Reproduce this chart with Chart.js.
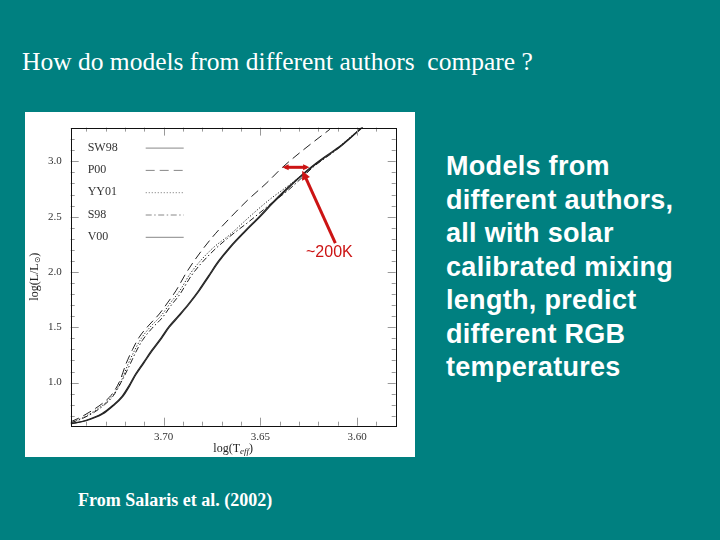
<!DOCTYPE html>
<html>
<head>
<meta charset="utf-8">
<script src="https://cdn.jsdelivr.net/npm/chart.js@4"></script>
<style>
  body { margin: 0; width: 720px; height: 540px; background: #008080; overflow: hidden; position: relative; }
  .title { position: absolute; left: 22px; top: 48px; font: 25.5px "Liberation Serif", serif; color: #fff; line-height: 28px; white-space: pre; }
  .side { position: absolute; left: 446px; top: 150px; font: bold 27px "Liberation Sans", Arial, sans-serif; letter-spacing: 0.3px; color: #fff; line-height: 33.5px; }
  .source { position: absolute; left: 78px; top: 489px; font: bold 18px "Liberation Serif", serif; color: #fff; line-height: 22px; }
  .panel { position: absolute; left: 25px; top: 112px; width: 390px; height: 345px; background: #fff; }
</style>
</head>
<body>
<div class="title">How do models from different authors  compare ?</div>
<div class="side">Models from<br>different authors,<br>all with solar<br>calibrated mixing<br>length, predict<br>different RGB<br>temperatures</div>
<div class="source">From Salaris et al. (2002)</div>
<div class="panel"><canvas id="hrChart" width="390" height="345"></canvas></div>

<script>
// isochrone tracks: [log Teff, log L/Lsun]
const sw98 = [[3.748,0.625],[3.740,0.655],[3.7315,0.715],[3.726,0.79],[3.7212,0.87],[3.7175,0.97],[3.7143,1.07],[3.710,1.18],[3.7057,1.29],[3.701,1.40],[3.697,1.50],[3.692,1.60],[3.6867,1.71],[3.6815,1.83],[3.6765,1.96],[3.6715,2.09],[3.6655,2.22],[3.658,2.36],[3.650,2.50],[3.6436,2.62],[3.636,2.75],[3.6298,2.85],[3.6238,2.94],[3.617,3.03],[3.608,3.14],[3.597,3.31]];
const p00 = [[3.748,0.645],[3.7425,0.69],[3.7367,0.75],[3.731,0.82],[3.7264,0.90],[3.7225,1.02],[3.7194,1.17],[3.716,1.30],[3.7126,1.41],[3.7075,1.52],[3.7022,1.62],[3.698,1.72],[3.6936,1.83],[3.688,2.00],[3.680,2.20],[3.673,2.35],[3.665,2.50],[3.6565,2.65],[3.647,2.80],[3.6385,2.946],[3.628,3.10],[3.614,3.29]];
const yy01 = [[3.748,0.64],[3.742,0.68],[3.736,0.74],[3.7305,0.81],[3.726,0.89],[3.722,1.01],[3.7185,1.16],[3.715,1.29],[3.7115,1.40],[3.7065,1.51],[3.701,1.61],[3.6965,1.72],[3.692,1.82],[3.686,1.99],[3.6755,2.20],[3.6655,2.34],[3.6555,2.50],[3.6455,2.65],[3.6355,2.78],[3.6275,2.89],[3.6215,2.97],[3.6115,3.10],[3.5975,3.31]];
const s98 = [[3.748,0.635],[3.742,0.675],[3.736,0.73],[3.7305,0.80],[3.726,0.88],[3.722,1.00],[3.718,1.14],[3.7145,1.27],[3.711,1.38],[3.706,1.49],[3.7005,1.59],[3.696,1.70],[3.6915,1.80],[3.6855,1.97],[3.6755,2.17],[3.6665,2.31],[3.6555,2.46],[3.645,2.61],[3.6355,2.74],[3.628,2.86],[3.6225,2.95],[3.611,3.10],[3.597,3.31]];
const v00 = [[3.748,0.628],[3.740,0.66],[3.7318,0.72],[3.7262,0.795],[3.7215,0.875],[3.7178,0.975],[3.7146,1.075],[3.7103,1.185],[3.706,1.295],[3.7013,1.405],[3.6973,1.505],[3.6923,1.605],[3.687,1.715],[3.6818,1.835],[3.6768,1.965],[3.6718,2.095],[3.6658,2.225],[3.6583,2.365],[3.6503,2.505],[3.6439,2.625],[3.6363,2.755],[3.63,2.855],[3.624,2.945],[3.6172,3.035],[3.6082,3.145],[3.5972,3.31]];

const seriesNames = ["SW98", "P00", "YY01", "S98", "V00"];
const xTickValues = [3.60, 3.65, 3.70];
const yTickValues = [1.0, 1.5, 2.0, 2.5, 3.0];

// the ~200K gap marked in red
const gapLeft = [3.6386, 2.946];
const gapRight = [3.6246, 2.946];
const pointerFrom = [3.6112, 2.26];
const pointerTo = [3.6283, 2.915];
const gapLabel = "~200K";
const gapLabelAt = [3.6143, 2.175];

const ink = "#222";
const red = "#cc1414";

function toPoints(track) {
  return track.map(([x, y]) => ({ x: x, y: y }));
}

const styles = [
  { dash: [], width: 1.1 },
  { dash: [9, 5], width: 1 },
  { dash: [1.2, 1.8], width: 1 },
  { dash: [6, 2.5, 1.5, 2.5], width: 1 },
  { dash: [], width: 1.1 },
];

const tracks = [sw98, p00, yy01, s98, v00];

// inward ticks, box, legend and axis titles in the old SM style
const framePlugin = {
  id: "frame",
  afterDatasetsDraw(chart) {
    const ctx = chart.ctx;
    const a = chart.chartArea;
    const xs = chart.scales.x;
    const ys = chart.scales.y;
    ctx.save();

    ctx.strokeStyle = "#999";
    ctx.lineWidth = 1;
    ctx.beginPath();
    for (let i = 359; i <= 374; i++) {
      const px = Math.round(xs.getPixelForValue(i / 100)) + 0.5;
      const len = i % 5 === 0 ? 8 : 4;
      ctx.moveTo(px, a.bottom); ctx.lineTo(px, a.bottom - len);
      ctx.moveTo(px, a.top); ctx.lineTo(px, a.top + len);
    }
    for (let i = 7; i <= 33; i++) {
      const py = Math.round(ys.getPixelForValue(i / 10)) + 0.5;
      const len = i % 5 === 0 ? 8 : 4;
      ctx.moveTo(a.left, py); ctx.lineTo(a.left + len, py);
      ctx.moveTo(a.right, py); ctx.lineTo(a.right - len, py);
    }
    ctx.stroke();

    ctx.strokeStyle = "#111";
    ctx.lineWidth = 1;
    ctx.strokeRect(Math.round(a.left) + 0.5, Math.round(a.top) + 0.5,
      Math.round(a.right - a.left), Math.round(a.bottom - a.top));

    // legend
    ctx.font = "12px 'Liberation Serif', serif";
    ctx.fillStyle = "#333";
    ctx.textBaseline = "middle";
    ctx.textAlign = "left";
    seriesNames.forEach((name, i) => {
      const y = a.top + 20 + i * 22.3;
      ctx.fillText(name, a.left + 17, y);
      ctx.setLineDash(styles[i].dash);
      ctx.strokeStyle = "#888";
      ctx.lineWidth = 1;
      ctx.beginPath();
      ctx.moveTo(a.left + 75, y + 0.5);
      ctx.lineTo(a.left + 113, y + 0.5);
      ctx.stroke();
    });
    ctx.setLineDash([]);

    // axis titles with subscripts
    ctx.fillStyle = ink;
    const cx = (a.left + a.right) / 2;
    ctx.font = "12px 'Liberation Serif', serif";
    const w1 = ctx.measureText("log(T").width;
    ctx.font = "italic 9px 'Liberation Serif', serif";
    const w2 = ctx.measureText("eff").width;
    ctx.font = "12px 'Liberation Serif', serif";
    const w3 = ctx.measureText(")").width;
    let sx = cx - (w1 + w2 + w3) / 2;
    const ty = a.bottom + 23;
    ctx.fillText("log(T", sx, ty);
    ctx.font = "italic 9px 'Liberation Serif', serif";
    ctx.fillText("eff", sx + w1, ty + 3);
    ctx.font = "12px 'Liberation Serif', serif";
    ctx.fillText(")", sx + w1 + w2, ty);

    ctx.save();
    ctx.translate(10, (a.top + a.bottom) / 2);
    ctx.rotate(-Math.PI / 2);
    ctx.font = "12px 'Liberation Serif', serif";
    const v1 = ctx.measureText("log(L/L").width;
    ctx.font = "8px 'DejaVu Sans', sans-serif";
    const v2 = ctx.measureText("\u2299").width;
    ctx.font = "12px 'Liberation Serif', serif";
    const v3 = ctx.measureText(")").width;
    const vx = -(v1 + v2 + v3) / 2;
    ctx.fillText("log(L/L", vx, 0);
    ctx.font = "8px 'DejaVu Sans', sans-serif";
    ctx.fillText("\u2299", vx + v1, 3);
    ctx.font = "12px 'Liberation Serif', serif";
    ctx.fillText(")", vx + v1 + v2, 0);
    ctx.restore();

    ctx.restore();
  },
  afterDraw(chart) {
    const ctx = chart.ctx;
    const xs = chart.scales.x;
    const ys = chart.scales.y;
    const px = (p) => [xs.getPixelForValue(p[0]), ys.getPixelForValue(p[1])];
    const head = (from, to, size) => {
      const ang = Math.atan2(to[1] - from[1], to[0] - from[0]);
      ctx.beginPath();
      ctx.moveTo(to[0], to[1]);
      ctx.lineTo(to[0] - size * Math.cos(ang - 0.45), to[1] - size * Math.sin(ang - 0.45));
      ctx.lineTo(to[0] - size * Math.cos(ang + 0.45), to[1] - size * Math.sin(ang + 0.45));
      ctx.closePath();
      ctx.fill();
    };
    ctx.save();
    ctx.strokeStyle = red;
    ctx.fillStyle = red;
    ctx.lineWidth = 3;
    const l = px(gapLeft), r = px(gapRight);
    ctx.beginPath();
    ctx.moveTo(l[0] + 3, l[1]); ctx.lineTo(r[0] - 3, r[1]);
    ctx.stroke();
    head(r, l, 7);
    head(l, r, 7);
    const f = px(pointerFrom), t = px(pointerTo);
    ctx.beginPath();
    ctx.moveTo(f[0], f[1]); ctx.lineTo(t[0] + 2, t[1] + 4);
    ctx.stroke();
    head(f, t, 10);
    const lp = px(gapLabelAt);
    ctx.font = "16px 'Liberation Sans', Arial, sans-serif";
    ctx.textAlign = "center";
    ctx.textBaseline = "middle";
    ctx.fillText(gapLabel, lp[0], lp[1]);
    ctx.restore();
  },
};

new Chart(document.getElementById("hrChart"), {
  type: "line",
  data: {
    datasets: tracks.map((track, i) => ({
      label: seriesNames[i],
      data: toPoints(track),
      borderColor: ink,
      borderWidth: styles[i].width,
      borderDash: styles[i].dash,
      pointRadius: 0,
      cubicInterpolationMode: "monotone",
      fill: false,
    })),
  },
  options: {
    responsive: false,
    animation: false,
    devicePixelRatio: 1,
    layout: { padding: { left: 0, top: 13, right: 19.3, bottom: 0 } },
    plugins: { legend: { display: false }, tooltip: { enabled: false } },
    scales: {
      x: {
        type: "linear",
        reverse: true,
        min: 3.58,
        max: 3.748,
        afterBuildTicks: (s) => { s.ticks = xTickValues.map((v) => ({ value: v })); },
        afterFit: (s) => { s.height = 31.3; },
        ticks: {
          callback: (v) => Number(v).toFixed(2),
          font: { family: "Liberation Serif", size: 11 },
          color: "#333",
          padding: 5,
          maxRotation: 0,
          autoSkip: false,
        },
        grid: { display: false, drawTicks: false },
        border: { display: false },
      },
      y: {
        min: 0.61,
        max: 3.305,
        afterBuildTicks: (s) => { s.ticks = yTickValues.map((v) => ({ value: v })); },
        afterFit: (s) => { s.width = 45.7; },
        ticks: {
          callback: (v) => Number(v).toFixed(1),
          font: { family: "Liberation Serif", size: 11 },
          color: "#333",
          padding: 9,
          autoSkip: false,
        },
        grid: { display: false, drawTicks: false },
        border: { display: false },
      },
    },
  },
  plugins: [framePlugin],
});
</script>
</body>
</html>
